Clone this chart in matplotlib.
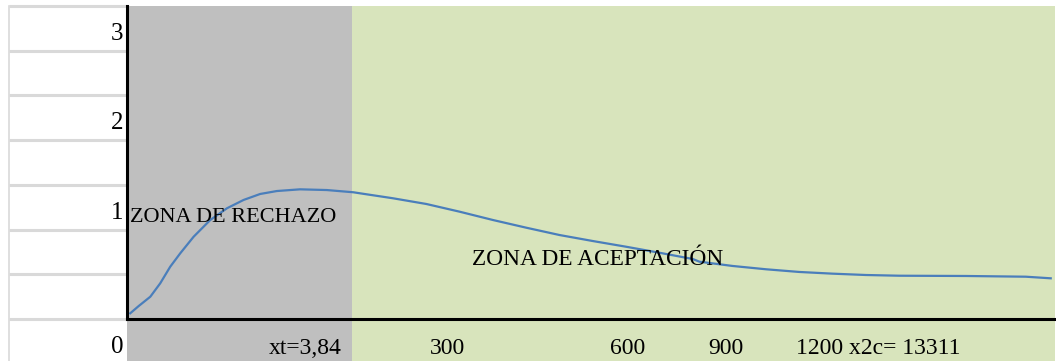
import matplotlib
matplotlib.use("Agg")
import matplotlib.pyplot as plt
import matplotlib.transforms as mtransforms

# curva del estadistico (posicion horizontal en unidades del grafico, altura)
curva_x = [3.5, 12.6, 25.1, 35.8, 46.6, 57.4, 71.8, 89.7, 107.7, 125.6,
           143.5, 161.5, 186.5, 215.3, 244.0, 250.8, 286.6, 322.6, 358.4,
           394.3, 430.2, 466.1, 501.9, 537.9, 573.7, 609.6, 616.8, 652.6,
           688.6, 724.4, 760.3, 796.2, 832.1, 903.9, 968.5, 995.4]
curva_y = [0.064, 0.145, 0.249, 0.399, 0.585, 0.735, 0.920, 1.107, 1.238,
           1.331, 1.398, 1.431, 1.450, 1.442, 1.417, 1.406, 1.350, 1.286,
           1.200, 1.107, 1.021, 0.939, 0.872, 0.808, 0.741, 0.671, 0.641,
           0.593, 0.556, 0.526, 0.507, 0.492, 0.484, 0.481, 0.473, 0.455]

limite_rechazo = 242      # donde termina la zona de rechazo
x_max = 1000
y_max = 3.5

# rotulos del eje y (celdas de la hoja) y del eje x
filas_valores = [0, 1, 2, 3]
filas_textos = ["0", "1", "2", "3"]
eje_x_pos = [231, 345, 539, 645, 721]
eje_x_textos = ["xt=3,84", "300", "600", "900", "1200 x2c= 13311"]
eje_x_alin = ["right", "center", "center", "center", "left"]

plt.rcParams["font.family"] = ["Liberation Serif", "DejaVu Serif"]

W, H = 1056, 361
fig = plt.figure(figsize=(W / 100, H / 100), dpi=100)
ax = fig.add_axes([127 / W, 42 / H, (W - 1 - 127) / W, 313 / H])
ax.set_xlim(0, x_max)
ax.set_ylim(0, y_max)
ax.patch.set_alpha(0)

# zonas de color, bajan hasta el borde inferior
abajo = -42 / 313
ax.axvspan(0, limite_rechazo, ymin=abajo, ymax=1, color="#bfbfbf",
           clip_on=False, zorder=0, lw=0)
ax.axvspan(limite_rechazo, x_max, ymin=abajo, ymax=1, color="#d8e4bc",
           clip_on=False, zorder=0, lw=0)

ax.plot(curva_x, curva_y, color="#4a7ebb", lw=1.6, zorder=3)

for lado in ["top", "right"]:
    ax.spines[lado].set_visible(False)
for lado in ["left", "bottom"]:
    ax.spines[lado].set_linewidth(2.2)
    ax.spines[lado].set_color("black")
    ax.spines[lado].set_zorder(5)
ax.set_xticks([])
ax.set_yticks([])

# celdas de la hoja a la izquierda
celdas = mtransforms.blended_transform_factory(fig.transFigure, ax.transData)
for k in range(8):
    y = k * 0.5
    ax.plot([9 / W, 126 / W], [y, y], transform=celdas, color="#d9d9d9",
            lw=2.2, clip_on=False, solid_capstyle="butt", zorder=1)
ax.plot([8.5 / W, 8.5 / W], [-0.5, y_max], transform=celdas, color="#d9d9d9",
        lw=1.2, clip_on=False, zorder=1)

for v, t in zip(filas_valores, filas_textos):
    yb = v + 0.12 if v > 0 else -0.38
    ax.text(123 / W, yb, t, transform=celdas, ha="right", va="baseline",
            fontsize=18)

pie = mtransforms.blended_transform_factory(ax.transData, ax.transAxes)
for xp, t, al in zip(eje_x_pos, eje_x_textos, eje_x_alin):
    ax.text(xp, -0.112, t, transform=pie, ha=al, va="baseline", fontsize=17)

ax.text(3, 1.085, "ZONA DE RECHAZO", ha="left", va="baseline", fontsize=16,
        zorder=4)
ax.text(372, 0.60, "ZONA DE ACEPTACIÓN", ha="left", va="baseline",
        fontsize=16.8, zorder=4)

fig.savefig("out.png", dpi=100)
